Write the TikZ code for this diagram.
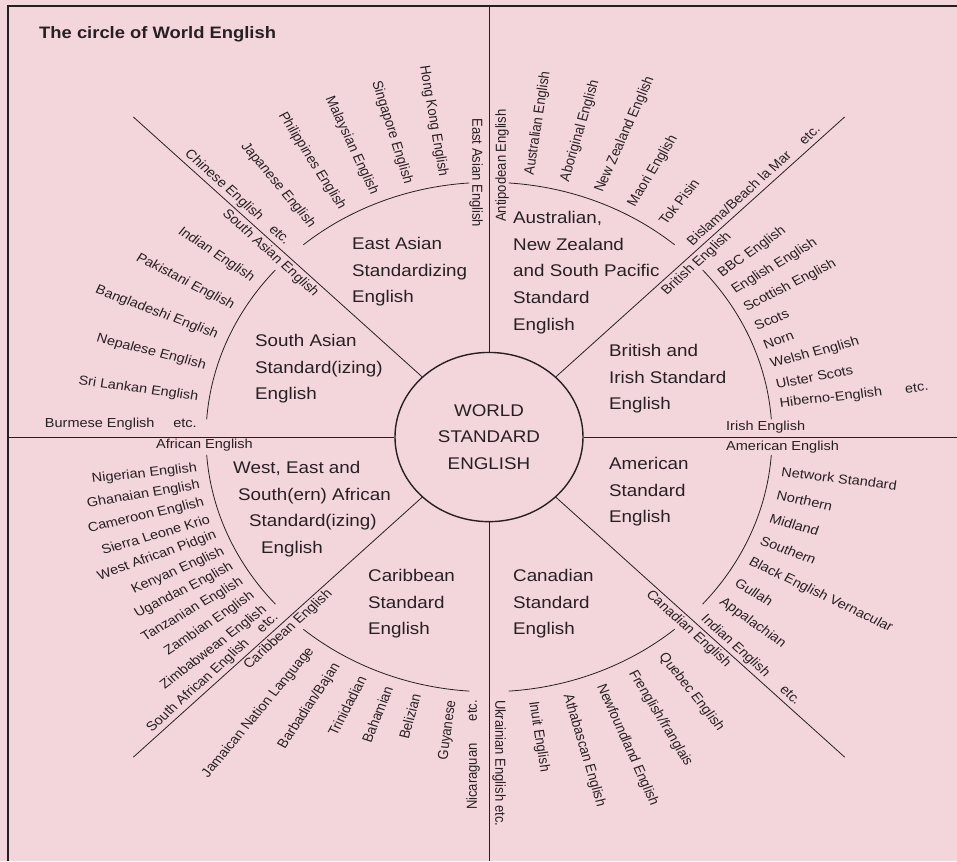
\documentclass[tikz,border=0pt]{standalone}
\usepackage{fontspec}
\setmainfont{Liberation Sans}
\usepackage{tikz}
\definecolor{cardpink}{RGB}{243,214,220}
\definecolor{inkgrey}{RGB}{38,32,36}
\tikzset{
    variety/.style={font=\fontsize{14.5}{17}\selectfont, text=inkgrey, inner sep=0pt},
    outvar/.style={variety, anchor=west, rotate=#1},
    invar/.style={variety, anchor=east, rotate=#1},
    zone/.style={font=\fontsize{18.8}{29.6}\selectfont, text=inkgrey, align=left,
                 anchor=north west, inner sep=0pt},
    divider/.style={draw=inkgrey, line width=0.8pt},
    frameline/.style={draw=inkgrey, line width=1.3pt},
}

\begin{document}
\begin{tikzpicture}[x=1pt, y=1pt, yscale=0.9, transform shape]
    % card and frame
    \fill[cardpink] (-489,-471.1) rectangle (468,485.6);
    \useasboundingbox (-489,-471.1) rectangle (468,485.6);
    \draw[frameline] (-481,-471.1) |- (468,478.9);
    \node[font=\bfseries\fontsize{18.4}{20}\selectfont, text=inkgrey, anchor=base west,
          inner sep=0pt] (title) at (-450,443) {The circle of World English};

    % hub
    \node[circle, draw=inkgrey, line width=1.4pt, minimum size=188pt, inner sep=0pt,
          align=center, font=\fontsize{18.8}{29.6}\selectfont, text=inkgrey]
          (world) at (0,0) {WORLD\\STANDARD\\ENGLISH};

    % spokes
    \coordinate (rimN) at (0,478.9);
    \coordinate (rimS) at (0,-471.1);
    \coordinate (rimW) at (-481,0);
    \coordinate (rimE) at (468,0);
    \foreach \a in {45,135,225,315}
        \coordinate (rim\a) at (\a:503);
    \foreach \a/\r in {90/rimN,270/rimS,180/rimW,0/rimE,45/rim45,135/rim135,225/rim225,315/rim315}
        \draw[divider] (world.\a) -- (\r);

    % ring arcs
    \foreach \a in {4,49,...,319}
        \draw[divider] (\a:283) arc[start angle=\a, delta angle=37, radius=283];

    % East Asian
    \node[zone] (eastasian) at (-137,222.2) {East Asian\\Standardizing\\English};
    \foreach \ang/\lang [count=\i] in {99/Hong Kong English, 106/Singapore English,
        113/Malaysian English, 120/Philippines English, 127/Japanese English}
        \node[invar=\ang-180] (ea\i) at (\ang:293) {\lang};
    \node[invar=-90] (eaeng) at (-13,233) {East Asian English};
    \node[invar=-45] (chinese) at (133:295) {Chinese English\hspace{1em}etc.};
    \node[invar=-45] (saeng) at (137.5:234) {South Asian English};

    % Antipodean
    \node[zone] (antipodes) at (24,251.1)
        {Australian,\\New Zealand\\and South Pacific\\Standard\\English};
    \foreach \ang/\lang [count=\i] in {82/Australian English, 75/Aboriginal English,
        68/New Zealand English, 61/Maori English, 54/Tok Pisin}
        \node[outvar=\ang] (au\i) at (\ang:294) {\lang};
    \node[outvar=90] (antieng) at (13,239) {Antipodean English};
    \node[outvar=45] (bislama) at (47.2:294) {Bislama/Beach la Mar\hspace{1.2em}etc.};

    % British and Irish
    \node[zone] (british) at (120,103.3) {British and\\Irish Standard\\English};
    \foreach \ang/\lang [count=\i] in {38/BBC English, 33.6/English English,
        29.2/Scottish English, 24.8/Scots, 20.4/Norn, 16/Welsh English,
        11.6/Ulster Scots, 7.2/Hiberno-English\hspace{1.6em}etc.}
        \node[outvar=\ang] (br\i) at (\ang:293) {\lang};
    \node[outvar=45] (briteng) at (42.4:237) {British English};
    \node[outvar=0] (irisheng) at (237,11) {Irish English};

    % American
    \node[zone] (american) at (120,-22.2) {American\\Standard\\English};
    \node[outvar=0] (ameng) at (237,-11) {American English};
    \foreach \ang/\lang [count=\i] in {-7.5/Network Standard, -12.6/Northern,
        -17.7/Midland, -22.8/Southern, -27.9/Black English Vernacular,
        -33/Gullah, -38.1/Appalachian}
        \node[outvar=\ang] (am\i) at (\ang:295) {\lang};
    \node[outvar=-45] (indianeng) at (-43.1:293) {Indian English\hspace{1.4em}etc.};

    % Canadian
    \node[zone] (canadian) at (24,-146.7) {Canadian\\Standard\\English};
    \foreach \ang/\lang [count=\i] in {-54.5/Quebec English, -61.25/{Frenglish/franglais},
        -68/Newfoundland English, -74.75/Athabascan English, -81.5/Inuit English}
        \node[outvar=\ang] (ca\i) at (\ang:297) {\lang};
    \node[outvar=-90] (ukreng) at (10,-292) {Ukrainian English etc.};
    \node[outvar=-45] (caneng) at (-47.4:235) {Canadian English};

    % Caribbean
    \node[zone] (caribbean) at (-121,-146.7) {Caribbean\\Standard\\English};
    \foreach \ang/\lang [count=\i] in {233/Jamaican Nation Language, 239/{Barbadian/Bajan},
        244.6/Trinidadian, 250.1/Bahamian, 255.7/Belizian, 262.8/Guyanese}
        \node[invar=\ang-180] (cb\i) at (\ang:295) {\lang};
    \node[invar=90] (nicaragua) at (-16,-292) {Nicaraguan\hspace{1.7em}etc.};
    \node[invar=45] (caribeng) at (227.3:234) {Caribbean English};

    % African
    \node[zone] (african) at (-256,-26.7)
        {West, East and\\\hspace*{5pt}South(ern) African\\\hspace*{16pt}Standard(izing)\\\hspace*{28pt}English};
    \node[invar=0] (afreng) at (-236,-9) {African English};
    \foreach \ang/\lang [count=\i] in {186.8/Nigerian English, 190.5/Ghanaian English,
        194.3/Cameroon English, 198/Sierra Leone Krio, 201.7/West African Pidgin,
        205.5/Kenyan English, 209.2/Ugandan English, 212.9/Tanzanian English,
        216.6/Zambian English, 220.4/Zimbabwean English}
        \node[invar=\ang-180] (af\i) at (\ang:294) {\lang};
    \node[invar=45] (southafr) at (223:291) {South African English\hspace{1.2em}etc.};

    % South Asian
    \node[zone] (southasian) at (-234,114.4) {South Asian\\Standard(izing)\\English};
    \foreach \ang/\lang [count=\i] in {143.4/Indian English, 150.4/Pakistani English,
        157.4/Bangladeshi English, 164.4/Nepalese English, 171.4/Sri Lankan English}
        \node[invar=\ang-180] (sa\i) at (\ang:294) {\lang};
    \node[invar=0] (burmese) at (-292,14) {Burmese English\hspace{1.3em}etc.};
\end{tikzpicture}
\end{document}
